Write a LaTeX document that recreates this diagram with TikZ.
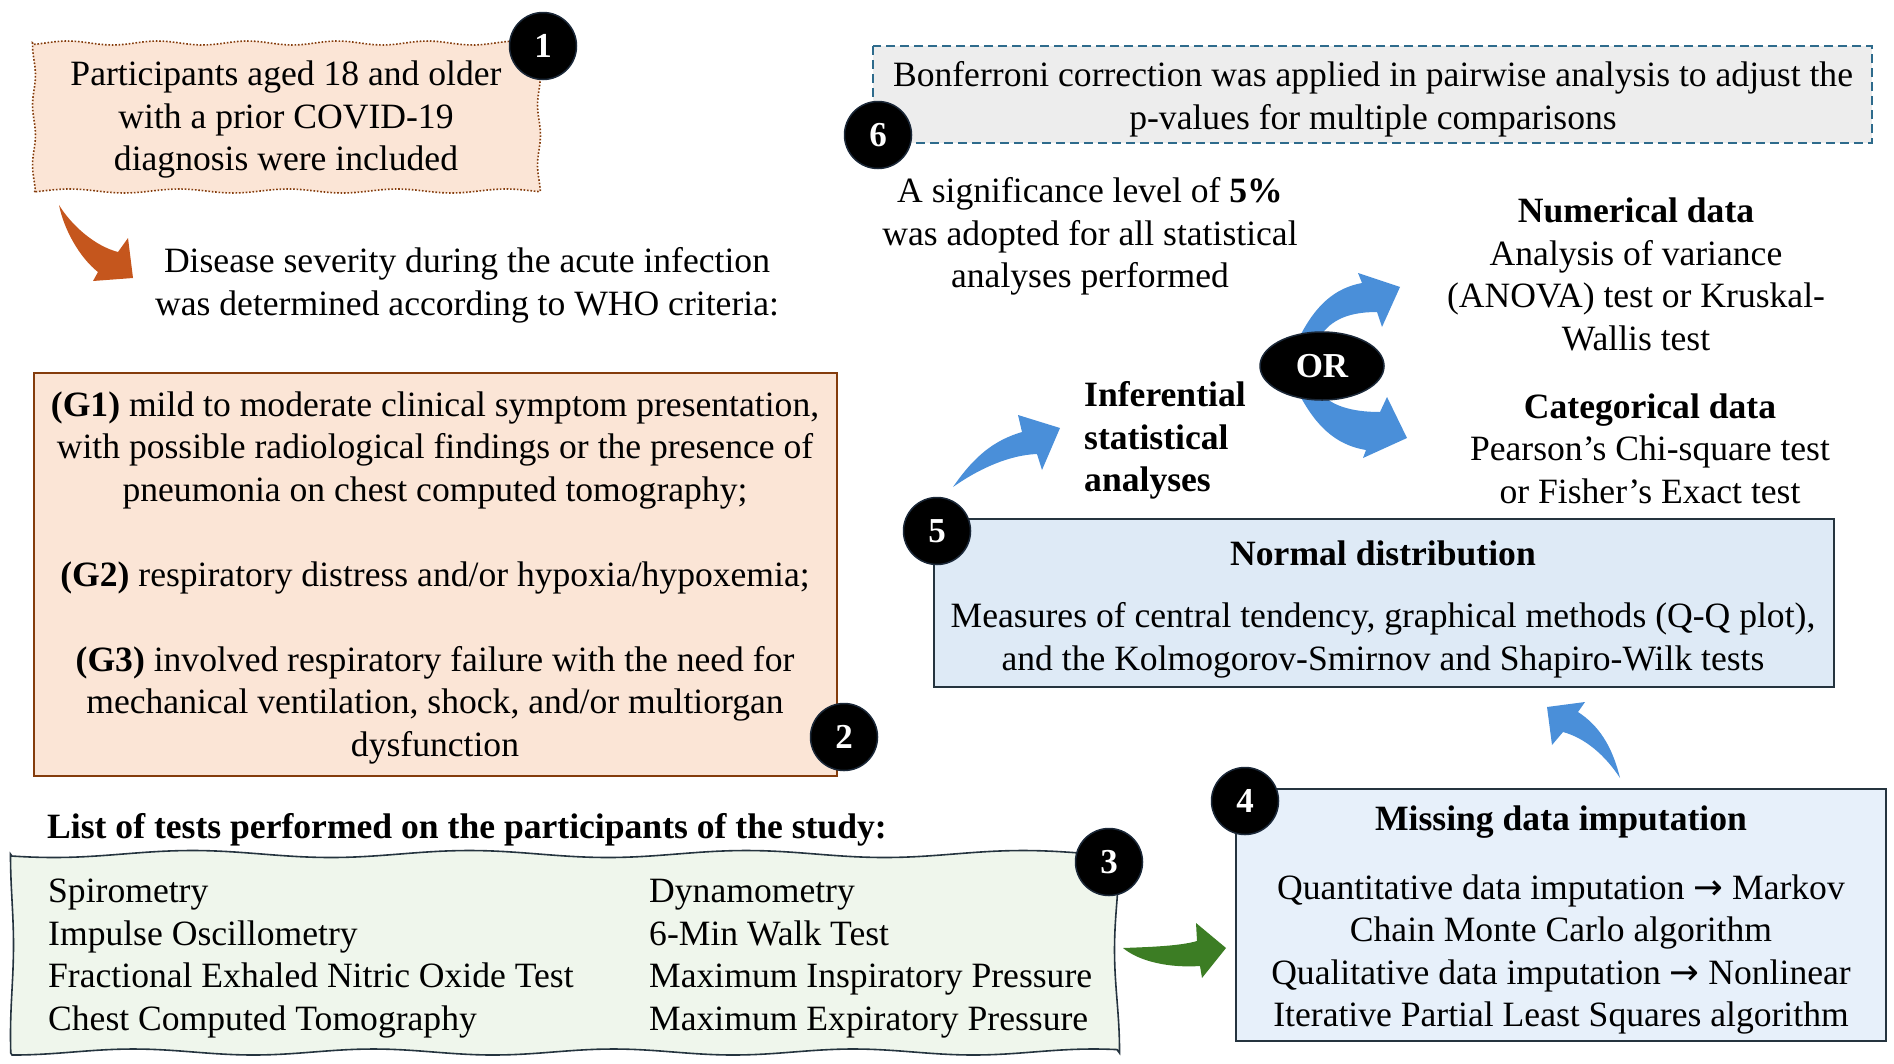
\documentclass[tikz,border=0pt]{standalone}
\usepackage{fontspec}
\setmainfont{Liberation Serif}
\newfontfamily\arrowfont{DejaVu Sans}
\usetikzlibrary{calc}
\usetikzlibrary{positioning}
\usetikzlibrary{arrows.meta}
\usetikzlibrary{shapes}

\definecolor{peachfill}{HTML}{FBE5D6}
\definecolor{rustline}{HTML}{843C0C}
\definecolor{mintfill}{HTML}{EFF6EC}
\definecolor{slateline}{HTML}{25343F}
\definecolor{skyfill}{HTML}{DEEAF6}
\definecolor{paleskyfill}{HTML}{E7F0FA}
\definecolor{greyfill}{HTML}{EDEDED}
\definecolor{tealdash}{HTML}{2E6B8C}
\definecolor{arrowblue}{HTML}{4A8FD9}
\definecolor{arroworange}{HTML}{C5561D}
\definecolor{arrowgreen}{HTML}{3C7D24}
\definecolor{dotrim}{HTML}{1B2838}

\begin{document}
\begin{tikzpicture}[%
  x=1pt, y=-1pt,
  txt/.style={align=center, inner sep=0pt, yshift=-3.5pt,
    font=\fontsize{35.6}{42.5}\selectfont},
  boldtxt/.style={txt, font=\fontsize{35.6}{42.5}\selectfont\bfseries},
  numdot/.style={circle, fill=black, draw=dotrim, line width=1.5pt,
    minimum size=67pt, inner sep=0pt, text=white,
    font=\fontsize{35}{40}\selectfont\bfseries},
  plainbox/.style={line width=1.6pt},
]

  \path[use as bounding box] (0,0) rectangle (1894,1063);

  % boxes
  \draw[fill=peachfill, draw=rustline, line width=1.6pt, dash pattern=on 1.6pt off 1.8pt]
    plot[domain=34:539, samples=80] (\x, {43+2*sin(4*\x)})
    -- plot[domain=43:191, samples=25] ({539+1.5*sin(6*\x)}, \x)
    -- plot[domain=539:34, samples=80] (\x, {191+2*sin(3.3*\x+40)})
    -- plot[domain=191:43, samples=25] ({34+1.5*sin(6*\x)}, \x) -- cycle;
  \draw[plainbox, fill=peachfill, draw=rustline] (34,373) rectangle (837,776);
  \draw[fill=mintfill, draw=slateline, line width=1.6pt]
    plot[domain=12:1117, samples=120] (\x, {854+3.5*sin(1.3*\x+20)})
    -- plot[domain=854:1053, samples=30] ({1117+2.5*sin(1.8*\x)}, \x)
    -- plot[domain=1117:12, samples=120] (\x, {1052+3*sin(1.5*\x+70)})
    -- plot[domain=1053:854, samples=30] ({12+1.5*sin(2*\x)}, \x) -- cycle;
  \draw[plainbox, fill=paleskyfill, draw=slateline] (1236,789) rectangle (1886,1041);
  \draw[plainbox, fill=skyfill, draw=slateline] (934,519) rectangle (1834,687);
  \draw[fill=greyfill, draw=tealdash, line width=1.6pt,
        dash pattern=on 9pt off 5pt] (873,46) rectangle (1872,143);

  % block arrows
  \fill[arroworange] (59,205) .. controls (72,226) and (95,246) .. (118,252)
    -- (128,238) -- (133,278) -- (93,281) -- (98,272)
    .. controls (80,258) and (64,230) .. cycle;
  \fill[arrowgreen] (1123,948) .. controls (1150,947) and (1180,946) .. (1197,941)
    -- (1196,923) -- (1226,948) -- (1202,978) -- (1200,966)
    .. controls (1170,968) and (1140,962) .. cycle;
  \fill[arrowblue] (953,487) .. controls (975,455) and (995,440) .. (1022,432)
    -- (1018,415) -- (1060,428) -- (1042,470) -- (1037,454)
    .. controls (1010,455) and (980,468) .. cycle;
  \fill[arrowblue] (1620,778) .. controls (1612,745) and (1598,725) .. (1578,712)
    -- (1585,702) -- (1547,707) -- (1552,745) -- (1563,732)
    .. controls (1585,738) and (1605,755) .. cycle;
  \fill[arrowblue] (1298,340) .. controls (1315,305) and (1335,288) .. (1362,283)
    -- (1358,273) -- (1400,287) -- (1382,327) -- (1377,312)
    .. controls (1345,312) and (1328,322) .. (1318,340) -- cycle;
  \fill[arrowblue] (1298,392) .. controls (1315,425) and (1335,445) .. (1366,450)
    -- (1363,458) -- (1407,438) -- (1387,397) -- (1380,412)
    .. controls (1350,412) and (1330,405) .. (1320,392) -- cycle;

  % texts
  \node[txt] (incl) at (286,116) {Participants aged 18 and older\\ with a prior COVID-19\\ diagnosis were included};
  \node[txt] (sevr) at (467,282) {Disease severity during the acute infection\\ was determined according to WHO criteria:};
  \node[txt] (grps) at (435,574) {\textbf{(G1)} mild to moderate clinical symptom presentation,\\
    with possible radiological findings or the presence of\\
    pneumonia on chest computed tomography;\\[42.5pt]
    \textbf{(G2)} respiratory distress and/or hypoxia/hypoxemia;\\[42.5pt]
    \textbf{(G3)} involved respiratory failure with the need for\\
    mechanical ventilation, shock, and/or multiorgan\\ dysfunction};
  \node[boldtxt] (list) at (467,826) {List of tests performed on the participants of the study:};
  \node[txt, align=left, anchor=west] (lcol) at (48,955) {Spirometry\\ Impulse Oscillometry\\ Fractional Exhaled Nitric Oxide Test\\ Chest Computed Tomography};
  \node[txt, align=left, anchor=west] (rcol) at (649,955) {Dynamometry\\ 6-Min Walk Test\\ Maximum Inspiratory Pressure\\ Maximum Expiratory Pressure};
  \node[boldtxt] (miss) at (1561,819) {Missing data imputation};
  \node[txt] (imput) at (1561,951) {Quantitative data imputation {\arrowfont →} Markov\\ Chain Monte Carlo algorithm\\ Qualitative data imputation {\arrowfont →} Nonlinear\\ Iterative Partial Least Squares algorithm};
  \node[boldtxt] (norm) at (1383,550) {Normal distribution};
  \node[txt] (meas) at (1383,637) {Measures of central tendency, graphical methods (Q-Q plot),\\ and the Kolmogorov-Smirnov and Shapiro-Wilk tests};
  \node[boldtxt, align=left, anchor=west] (infer) at (1084,437) {Inferential\\ statistical\\ analyses};
  \node[txt] (numer) at (1636,271) {\textbf{Numerical data}\\ Analysis of variance\\ (ANOVA) test or Kruskal-\\ Wallis test};
  \node[txt] (categ) at (1650,445) {\textbf{Categorical data}\\ Pearson’s Chi-square test\\ or Fisher’s Exact test};
  \node[txt] (signif) at (1090,233) {A significance level of \textbf{5\%}\\ was adopted for all statistical\\ analyses performed};
  \node[txt] (bonf) at (1373,96) {Bonferroni correction was applied in pairwise analysis to adjust the\\ p-values for multiple comparisons};

  \node[ellipse, fill=black, draw=dotrim, line width=1.5pt, minimum width=124pt,
        minimum height=68pt, text=white, font=\fontsize{35}{40}\selectfont\bfseries] (or) at (1322,366) {OR};

  % step numbers
  \node[numdot] (n1) at (543,46) {1};
  \node[numdot] (n2) at (844,737) {2};
  \node[numdot] (n3) at (1109,862) {3};
  \node[numdot] (n4) at (1245,801) {4};
  \node[numdot] (n5) at (937,531) {5};
  \node[numdot] (n6) at (878,135) {6};

\end{tikzpicture}
\end{document}
